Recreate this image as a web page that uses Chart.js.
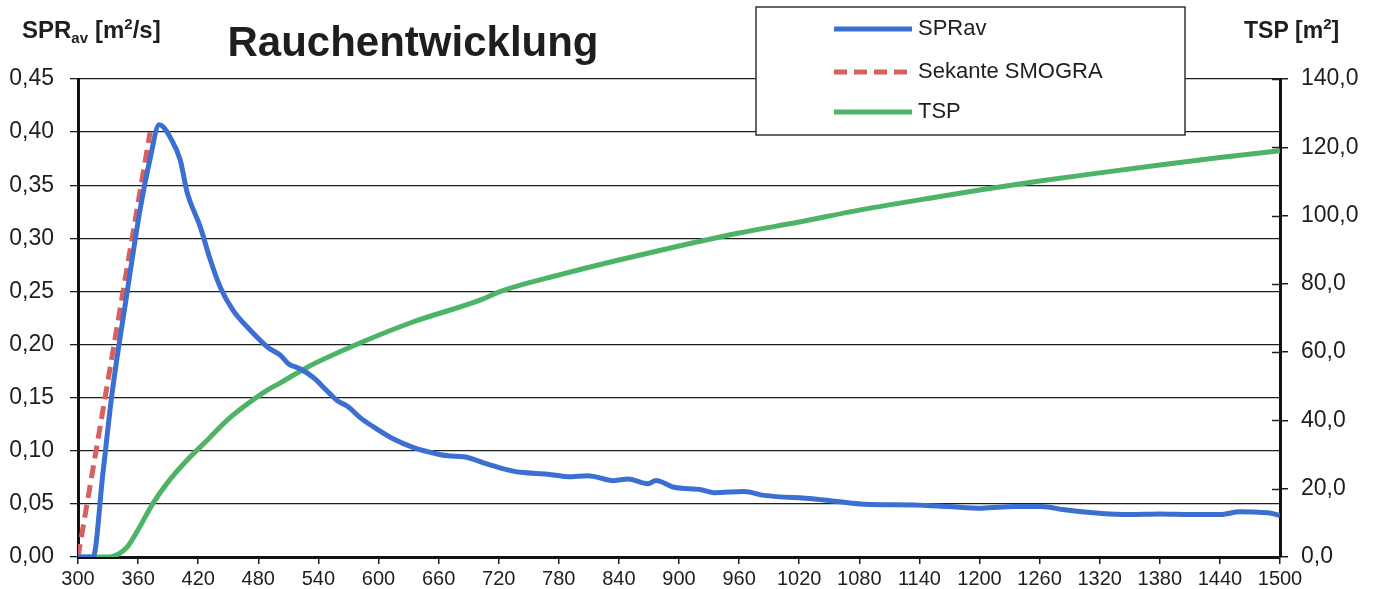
<!DOCTYPE html>
<html>
<head>
<meta charset="utf-8">
<script src="https://cdn.jsdelivr.net/npm/chart.js@4.4.1/dist/chart.umd.min.js"></script>
<style>
  html, body { margin: 0; padding: 0; background: #fff; }
</style>
</head>
<body>
<canvas id="smoke" width="1382" height="589"></canvas>
<script>
// data (time in s)
const xTicks = [300, 360, 420, 480, 540, 600, 660, 720, 780, 840, 900, 960, 1020, 1080, 1140, 1200, 1260, 1320, 1380, 1440, 1500];

const sprTime = [300, 315, 325, 334, 349, 362, 372, 381, 385, 392, 402, 409, 422, 432, 442, 455, 469, 490, 502, 510, 522, 535, 548, 559, 569, 582, 595, 615, 635, 650, 669, 685, 709, 725, 742, 769, 789, 809, 835, 849, 869, 877, 895, 922, 935, 965, 985, 1035, 1060, 1085, 1135, 1169, 1202, 1235, 1262, 1285, 1322, 1350, 1380, 1410, 1440, 1460, 1480, 1490, 1500];
const sprValues = [0, 0, 0.08, 0.154, 0.249, 0.327, 0.375, 0.407, 0.405, 0.395, 0.374, 0.343, 0.311, 0.28, 0.254, 0.232, 0.2165, 0.197, 0.19, 0.182, 0.177, 0.169, 0.157, 0.147, 0.142, 0.131, 0.1225, 0.111, 0.103, 0.099, 0.0953, 0.0944, 0.0875, 0.083, 0.0797, 0.078, 0.0756, 0.0766, 0.0719, 0.0734, 0.069, 0.072, 0.0656, 0.0634, 0.0606, 0.0616, 0.058, 0.0547, 0.052, 0.0497, 0.049, 0.0475, 0.046, 0.0475, 0.0475, 0.0444, 0.041, 0.04, 0.0405, 0.04, 0.04, 0.0425, 0.042, 0.0415, 0.039];

const sekTime = [300, 372];
const sekValues = [0, 0.4];

const tspTime = [300, 332, 340, 349, 360, 375, 390, 409, 430, 449, 469, 489, 502, 529, 585, 635, 702, 720, 780, 840, 900, 960, 1020, 1080, 1140, 1200, 1260, 1320, 1380, 1440, 1500];
const tspValues = [0, 0, 0.8, 2.9, 8, 15.8, 22, 28.4, 34.5, 40.1, 44.8, 48.9, 51, 55.6, 63.1, 68.9, 75.3, 77.6, 82.6, 87, 91.1, 94.9, 98.1, 101.6, 104.6, 107.5, 110.1, 112.5, 114.8, 117, 119];

const zip = (xs, ys) => xs.map((x, i) => ({ x: x, y: ys[i] }));

const font = "'Liberation Sans', Arial, sans-serif";
const blue = "#3b6fd2";
const red = "#d8605e";
const green = "#4db467";
const ink = "#1e1e1e";

// title, axis titles and the legend box on top of the plot
const decor = {
  id: "decor",
  afterDraw(chart) {
    const ctx = chart.ctx;
    ctx.save();
    ctx.fillStyle = ink;
    ctx.textBaseline = "alphabetic";
    ctx.textAlign = "center";
    ctx.font = "bold 42px " + font;
    ctx.fillText("Rauchentwicklung", 413, 56);

    // left axis title with subscript
    ctx.textAlign = "left";
    let x = 22;
    ctx.font = "bold 24px " + font;
    ctx.fillText("SPR", x, 38);
    x += ctx.measureText("SPR").width;
    ctx.font = "bold 15px " + font;
    ctx.fillText("av", x, 43);
    x += ctx.measureText("av").width + 7;
    ctx.font = "bold 24px " + font;
    ctx.fillText("[m", x, 38);
    x += ctx.measureText("[m").width;
    ctx.font = "bold 15px " + font;
    ctx.fillText("2", x, 29);
    x += ctx.measureText("2").width;
    ctx.font = "bold 24px " + font;
    ctx.fillText("/s]", x, 38);

    // right axis title
    x = 1244;
    ctx.font = "bold 23px " + font;
    ctx.fillText("TSP [m", x, 38);
    x += ctx.measureText("TSP [m").width;
    ctx.font = "bold 15px " + font;
    ctx.fillText("2", x, 29);
    x += ctx.measureText("2").width;
    ctx.font = "bold 23px " + font;
    ctx.fillText("]", x, 38);

    // right axis ticks cross the axis line
    const y2 = chart.scales.y2;
    ctx.strokeStyle = ink;
    ctx.lineWidth = 1.5;
    y2.ticks.forEach((t) => {
      const py = Math.round(y2.getPixelForValue(t.value)) + 0.5;
      ctx.beginPath();
      ctx.moveTo(y2.left - 8, py);
      ctx.lineTo(y2.left, py);
      ctx.stroke();
    });

    // legend
    ctx.fillStyle = "#fff";
    ctx.fillRect(756, 7, 429, 128);
    ctx.strokeStyle = "#333";
    ctx.lineWidth = 1.5;
    ctx.strokeRect(756, 7, 429, 128);
    const rows = [29, 72, 112];
    ctx.font = "22px " + font;
    chart.data.datasets.forEach((ds, i) => {
      ctx.beginPath();
      ctx.strokeStyle = ds.borderColor;
      ctx.lineWidth = 5;
      ctx.setLineDash(ds.borderDash || []);
      ctx.moveTo(834, rows[i]);
      ctx.lineTo(912, rows[i]);
      ctx.stroke();
      ctx.setLineDash([]);
      ctx.fillStyle = ink;
      ctx.textBaseline = "middle";
      ctx.fillText(ds.label, 918, rows[i]);
    });
    ctx.restore();
  },
};

new Chart(document.getElementById("smoke"), {
  type: "line",
  data: {
    datasets: [
      {
        label: "SPRav",
        data: zip(sprTime, sprValues),
        borderColor: blue,
        borderWidth: 5,
        yAxisID: "y",
        cubicInterpolationMode: "monotone",
      },
      {
        label: "Sekante SMOGRA",
        data: zip(sekTime, sekValues),
        borderColor: red,
        borderWidth: 5,
        borderDash: [13, 7],
        yAxisID: "y",
      },
      {
        label: "TSP",
        data: zip(tspTime, tspValues),
        borderColor: green,
        borderWidth: 5,
        yAxisID: "y2",
        cubicInterpolationMode: "monotone",
      },
    ],
  },
  options: {
    responsive: false,
    animation: false,
    layout: { padding: { top: 79, left: 0, right: 0, bottom: 0 } },
    plugins: { legend: { display: false }, tooltip: { enabled: false } },
    elements: { point: { radius: 0 } },
    scales: {
      x: {
        type: "linear",
        min: 300,
        max: 1500,
        afterBuildTicks: (axis) => { axis.ticks = xTicks.map((v) => ({ value: v })); },
        afterFit: (axis) => { axis.height = 32; },
        grid: { drawOnChartArea: false, drawTicks: true, tickLength: 7, color: ink, lineWidth: 1.5 },
        border: { display: true, color: "#111", width: 3 },
        ticks: {
          color: ink,
          font: { family: font, size: 20 },
          padding: 3,
          maxRotation: 0,
          autoSkip: false,
          callback: (v) => String(v),
        },
      },
      y: {
        position: "left",
        min: 0,
        max: 0.45,
        afterFit: (axis) => { axis.width = 78; },
        grid: { color: ink, lineWidth: 1.3, tickLength: 8 },
        border: { display: true, color: "#111", width: 3 },
        ticks: {
          stepSize: 0.05,
          color: ink,
          padding: 16,
          font: { family: font, size: 23 },
          callback: (v) => v.toFixed(2).replace(".", ","),
        },
      },
      y2: {
        position: "right",
        min: 0,
        max: 140,
        afterFit: (axis) => { axis.width = 102; },
        grid: { drawOnChartArea: false, color: ink, lineWidth: 1.5, tickLength: 8 },
        border: { display: true, color: "#111", width: 3 },
        ticks: {
          stepSize: 20,
          color: ink,
          padding: 13,
          font: { family: font, size: 23 },
          callback: (v) => v.toFixed(1).replace(".", ","),
        },
      },
    },
  },
  plugins: [decor],
});
</script>
</body>
</html>
